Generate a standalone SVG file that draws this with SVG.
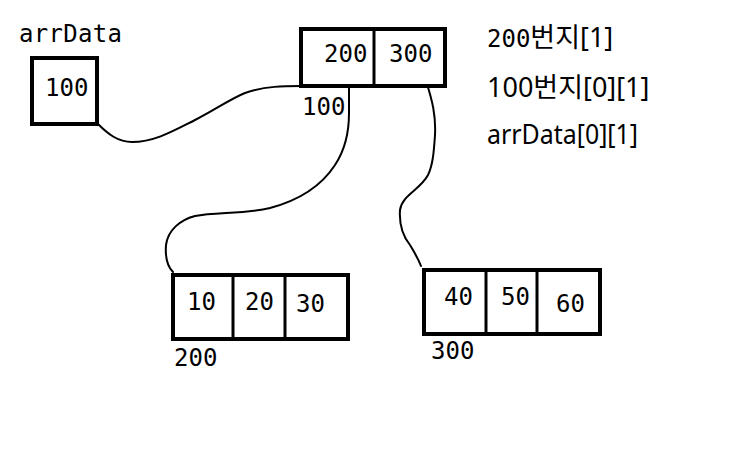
<svg xmlns="http://www.w3.org/2000/svg" width="750" height="476" viewBox="0 0 750 476">
<style>
.box{fill:#fff;stroke:#000;stroke-width:4}
.div{stroke:#000;stroke-width:3}
.mono{font-family:"DejaVu Sans Mono","Liberation Mono",monospace;font-size:24px;fill:#000}
.note{font-family:"Noto Sans","Noto Sans CJK KR",sans-serif;font-size:27px;fill:#000}
.wire{fill:none;stroke:#000;stroke-width:2;stroke-linecap:round;stroke-linejoin:round}
</style>
<rect width="750" height="476" fill="#fff"/>
<g id="connectors">
<path class="wire" d="M98,124 C108,134 118,142 132,142 C155,142 175,130 195,120 C215,110 230,99 245,93 C265,86 285,86 301,86"/>
<path class="wire" d="M349,88 L349,113 C349,130 345,150 335,165 C322,185 300,200 270,208 C245,214 215,212 195,216 C180,220 168,230 166,245 C165,258 167,266 173,272"/>
<path class="wire" d="M427,84 C432,100 436,115 435,135 C434,150 433,165 428,175 C420,190 402,195 400,210 C399,225 402,235 410,245 C414,252 418,258 421,266"/>
</g>
<g id="arrData">
<text class="mono" x="19" y="42" font-size="21" textLength="103" lengthAdjust="spacing">arrData</text>
<rect class="box" x="32" y="58" width="65" height="66"/>
<text class="mono" x="45" y="96">100</text>
</g>
<g id="array100">
<rect class="box" x="301" y="29" width="144" height="57"/>
<line class="div" x1="374" y1="29" x2="374" y2="86"/>
<text class="mono" x="324" y="62">200</text>
<text class="mono" x="389" y="62">300</text>
<text class="mono" x="302" y="115">100</text>
</g>
<g id="array200">
<rect class="box" x="173" y="275" width="175" height="64"/>
<line class="div" x1="233" y1="275" x2="233" y2="337"/>
<line class="div" x1="285" y1="275" x2="285" y2="339"/>
<text class="mono" x="187" y="310">10</text>
<text class="mono" x="245" y="310">20</text>
<text class="mono" x="296" y="312">30</text>
<text class="mono" x="174" y="366">200</text>
</g>
<g id="array300">
<rect class="box" x="424" y="270" width="176" height="64"/>
<line class="div" x1="486" y1="270" x2="486" y2="332"/>
<line class="div" x1="537" y1="270" x2="537" y2="334"/>
<text class="mono" x="444" y="305">40</text>
<text class="mono" x="501" y="305">50</text>
<text class="mono" x="556" y="312">60</text>
<text class="mono" x="431" y="359">300</text>
</g>
<g id="notes">
<text x="487" y="47"><tspan class="mono">200</tspan><tspan class="note">번지[1]</tspan></text>
<text class="note" x="487" y="97">100번지[0][1]</text>
<text class="note" x="487" y="144" textLength="151" lengthAdjust="spacingAndGlyphs">arrData[0][1]</text>
</g>
</svg>
